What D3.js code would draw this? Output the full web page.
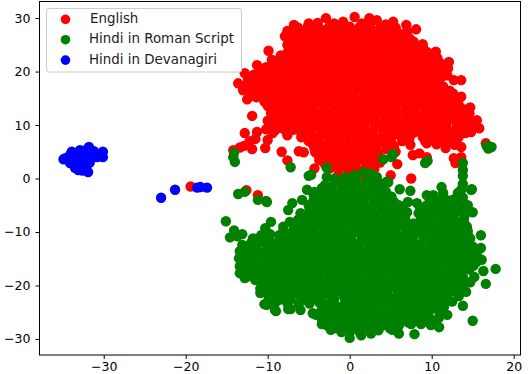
<!DOCTYPE html>
<html>
<head>
<meta charset="utf-8" />
<title>t-SNE scatter</title>
<script src="https://d3js.org/d3.v7.min.js"></script>
<style>
body { margin: 0; background: #fff; }
text { font-family: "DejaVu Sans", sans-serif; }
</style>
</head>
<body>
<div id="chart"></div>
<script>
const labels = ["English", "Hindi in Roman Script", "Hindi in Devanagiri"];
const colors = ["#ff0000", "#008000", "#0000ff"];
const xTicks = [-30, -20, -10, 0, 10, 20];
const yTicks = [-30, -20, -10, 0, 10, 20, 30];

// points, one line per rough row
const english = [
[-6.8,28.7],[-5,29],[-3.9,29.1],[-2.9,30],[-1.9,29],[-0.8,29.3],[0.6,30.2],[1.5,29],[2.4,30],[3.3,29.6],[4.4,28.8],[5.3,29.3],
[-7.6,27.6],[-6.4,27.9],[-5.3,27.6],[-4.2,27.9],[-3.1,27.7],[-2,27.8],[-0.9,27.6],[0.2,27.9],[1.3,27.6],[2.4,27.9],[3.5,27.7],[4.6,27.8],[5.7,27.6],[6.9,28.7],[8.1,27.9],[7,27.4],
[-7.9,26.6],[-7,26.3],[-5.9,26.5],[-4.8,26.3],[-3.7,26.5],[-2.6,26.3],[-1.5,26.5],[-0.4,26.3],[0.7,26.5],[1.8,26.3],[2.9,26.5],[4,26.3],[5.1,26.5],[6.2,26.3],[7.3,26.2],
[-7.6,25],[-6.4,25.1],[-5.3,24.9],[-4.2,25.1],[-3.1,24.9],[-2,25.1],[-0.9,24.9],[0.2,25.1],[1.3,24.9],[2.4,25.1],[3.5,24.9],[4.6,25.1],[5.7,24.9],[6.8,25.1],[7.9,24.9],[8.9,25.1],
[-9.9,23.9],[-7.5,23.8],[-6.9,23.5],[-5.8,23.7],[-4.7,23.5],[-3.6,23.7],[-2.5,23.5],[-1.4,23.7],[-0.3,23.5],[0.8,23.7],[1.9,23.5],[3,23.7],[4.1,23.5],[5.2,23.7],[6.3,23.5],[7.4,23.7],[8.5,23.5],[9.5,23.6],[10.5,23.7],
[-9.5,22.2],[-8.5,22.3],[-7.4,22.1],[-6.3,22.3],[-5.2,22.1],[-4.1,22.3],[-3,22.1],[-1.9,22.3],[-0.8,22.1],[0.3,22.3],[1.4,22.1],[2.5,22.3],[3.6,22.1],[4.7,22.3],[5.8,22.1],[6.9,22.3],[8,22.1],[9.1,22.3],[10.2,22.1],[10.7,22.5],[12.1,21.8],
[-11.3,21.2],[-10.2,20.8],[-9,20.9],[-7.9,20.7],[-6.8,20.9],[-5.7,20.7],[-4.6,20.9],[-3.5,20.7],[-2.4,20.9],[-1.3,20.7],[-0.2,20.9],[0.9,20.7],[2,20.9],[3.1,20.7],[4.2,20.9],[5.3,20.7],[6.4,20.9],[7.5,20.7],[8.6,20.9],[9.7,20.7],[10.8,20.9],[12,20.6],
[-12.8,19.7],[-11.7,19.4],[-10.6,19.5],[-9.5,19.3],[-8.4,19.5],[-7.3,19.3],[-6.2,19.5],[-5.1,19.3],[-4,19.5],[-2.9,19.3],[-1.8,19.5],[-0.7,19.3],[0.4,19.5],[1.5,19.3],[2.6,19.5],[3.7,19.3],[4.8,19.5],[5.9,19.3],[7,19.5],[8.1,19.3],[9.2,19.5],[10.3,19.3],[11.4,19.2],[11.9,19.3],
[-13.6,17.8],[-12.4,18.1],[-11.3,17.9],[-10.2,18.1],[-9.1,17.9],[-8,18.1],[-6.9,17.9],[-5.8,18.1],[-4.7,17.9],[-3.6,18.1],[-2.5,17.9],[-1.4,18.1],[-0.3,17.9],[0.8,18.1],[1.9,17.9],[3,18.1],[4.1,17.9],[5.2,18.1],[6.3,17.9],[7.4,18.1],[8.5,17.9],[9.6,18],[10.7,17.9],[12.7,18.4],[13.6,18.4],
[-13,16.5],[-11.9,16.7],[-10.8,16.5],[-9.7,16.7],[-8.6,16.5],[-7.5,16.7],[-6.4,16.5],[-5.3,16.7],[-4.2,16.5],[-3.1,16.7],[-2,16.5],[-0.9,16.7],[0.2,16.5],[1.3,16.7],[2.4,16.5],[3.5,16.7],[4.6,16.5],[5.7,16.7],[6.8,16.5],[7.9,16.7],[9,16.5],[10.1,16.7],[11.2,16.5],[12.2,16.4],
[-12.5,14.8],[-11.4,15.2],[-10.3,15],[-9.2,15.2],[-8.1,15],[-7,15.2],[-5.9,15],[-4.8,15.2],[-3.7,15],[-2.6,15.2],[-1.5,15],[-0.4,15.2],[0.7,15],[1.8,15.2],[2.9,15],[4,15.2],[5.1,15],[6.2,15.2],[7.3,15],[8.4,15.2],[9.5,15],[10.6,15.2],[11.7,15],[12.8,15.1],[13.6,15.3],
[-10,13.6],[-8.7,13.8],[-7.6,13.6],[-6.5,13.8],[-5.4,13.6],[-4.3,13.8],[-3.2,13.6],[-2.1,13.8],[-1,13.6],[0.1,13.8],[1.2,13.6],[2.3,13.8],[3.4,13.6],[4.5,13.8],[5.6,13.6],[6.7,13.8],[7.8,13.6],[8.9,13.8],[10,13.6],[11.1,13.8],[12.2,13.6],[13.3,13.7],[14.7,13.3],
[-11.9,11.7],[-9.6,12.3],[-8.5,12.1],[-7.4,12.3],[-6.3,12.1],[-5.2,12.3],[-4.1,12.1],[-3,12.3],[-1.9,12.1],[-0.8,12.3],[0.3,12.1],[1.4,12.3],[2.5,12.1],[3.6,12.3],[4.7,12.1],[5.8,12.3],[6.9,12.1],[8,12.3],[9.1,12.1],[10.2,12.3],[11.3,12.1],[12.4,12.3],[13.5,12.1],[14.6,12.2],
[-10,10.8],[-9,10.6],[-7.9,10.8],[-6.8,10.6],[-5.7,10.8],[-4.6,10.6],[-3.5,10.8],[-2.4,10.6],[-1.3,10.8],[-0.2,10.6],[0.9,10.8],[2,10.6],[3.1,10.8],[4.2,10.6],[5.3,10.8],[6.4,10.6],[7.5,10.8],[8.6,10.6],[9.7,10.8],[10.8,10.6],[11.9,10.8],[13,10.6],[14.1,10.8],[15.5,10.9],
[-11.3,8.7],[-10.2,9.2],[-9.1,9],[-8,9.2],[-6.9,9.1],[-5.8,9.3],[-4.7,9.1],[-3.6,9.3],[-2.5,9.1],[-1.4,9.3],[-0.3,9.1],[0.8,9.3],[1.9,9.1],[3,9.3],[4.1,9.1],[5.2,9.3],[6.3,9.1],[7.4,9.3],[8.5,9.1],[9.6,9.3],[10.7,9.1],[11.8,9.3],[12.9,9.1],[14,9.3],[14.8,8.7],[15.8,9.4],
[-12.8,8.5],[-12.2,7],[-10,7.2],[-7.6,8.1],[-5.9,7.7],[-4.8,7.9],[-3.7,7.7],[-2.6,7.9],[-1.5,7.7],[-0.4,7.9],[0.7,7.7],[1.8,7.9],[2.9,7.7],[4,7.9],[5.1,7.7],[6.2,7.9],[7.3,7.6],[8.9,7.8],[10,7.6],[11.1,7.8],[12.2,7.6],[13.3,7.8],
[-14.2,5.3],[-13.4,5.8],[-12.9,6.1],[-11.9,5.5],[-10.3,5.7],[-8.3,5],[-6.2,5.1],[-5.6,4.9],[-4.5,6.4],[-3.4,6.2],[-2.3,6.4],[-1.2,6.2],[-0.1,6.4],[1,6.2],[2.1,6.4],[3.2,6.2],[4.3,6.4],[5.4,6.1],[7.4,6.3],[9.4,6.6],[10.6,6.4],[11.7,5.7],[12.8,6.3],[13.6,5.9],[16.6,6.6],
[-4.2,4.9],[-3.1,4.7],[-2,4.9],[-0.9,4.7],[0.2,4.9],[1.3,4.7],[2.4,4.9],[3.5,4.7],[5.6,5],[7.7,4.4],[8.5,4.7],[9.4,4],[12.7,3.8],[13.6,4],[12.9,2.9],
[-7.6,3.4],[-3.7,3.4],[-2.6,3.2],[-1.5,3.4],[-0.4,3.2],[0.7,3.4],[1.8,3.2],[2.9,3.4],[3.7,3],[5.8,2.7],
[-4.3,1.9],[-2.4,1.9],[-1.3,1.7],[-0.2,1.9],[0.9,1.7],[2,1.9],[3,1.8],
[-1.4,0.6],[-0.3,0.5],[0.8,0.6],[2,0.5],[5,0.6],[7.5,0],
[-19.4,-1.5],[-12.6,-2.2],[-11.2,-3.1]
];

// inside of the red blob, between the rows above
const englishInner = [
[-6.3,28.2],[-5.1,28.4],[-3.8,28.3],[-2.5,28.4],[-1.3,28.2],[0,28.4],[1.2,28.3],[2.5,28.4],[3.8,28.2],[5,28.4],[5.6,28.2],
[-7.4,27],[-6.1,27.1],[-4.9,26.9],[-3.6,27.1],[-2.4,26.9],[-1.1,27.1],[0.1,26.9],[1.4,27.1],[2.6,26.9],[3.9,27.1],[5.1,26.9],[6.3,27],
[-7.3,25.7],[-6,25.8],[-4.8,25.6],[-3.5,25.8],[-2.3,25.6],[-1,25.8],[0.2,25.6],[1.5,25.8],[2.7,25.6],[4,25.8],[5.2,25.6],[6.5,25.8],[7.8,25.6],
[-7.2,24.3],[-6,24.4],[-4.7,24.2],[-3.5,24.4],[-2.2,24.2],[-1,24.4],[0.3,24.2],[1.5,24.4],[2.8,24.2],[4,24.4],[5.3,24.2],[6.5,24.4],[7.8,24.2],[9,24.3],
[-8.4,23],[-7.1,22.9],[-5.9,23.1],[-4.6,22.9],[-3.4,23.1],[-2.1,22.9],[-0.9,23.1],[0.4,22.9],[1.6,23.1],[2.9,22.9],[4.1,23.1],[5.4,22.9],[6.6,23.1],[7.9,22.9],[9.1,23.1],[9.8,22.9],
[-9,21.6],[-7.7,21.5],[-6.5,21.7],[-5.2,21.5],[-4,21.7],[-2.7,21.5],[-1.5,21.7],[-0.2,21.5],[1,21.7],[2.3,21.5],[3.5,21.7],[4.8,21.5],[6,21.7],[7.3,21.5],[8.5,21.7],[9.8,21.5],[11,21.6],
[-11,20.1],[-9.8,20.2],[-8.5,20],[-7.3,20.2],[-6,20],[-4.8,20.2],[-3.5,20],[-2.3,20.2],[-1,20],[0.2,20.2],[1.5,20],[2.7,20.2],[4,20],[5.2,20.2],[6.5,20],[7.7,20.2],[9,20],[10.2,20.2],[11.1,20],
[-12.4,18.7],[-11.2,18.8],[-9.9,18.6],[-8.7,18.8],[-7.4,18.6],[-6.2,18.8],[-4.9,18.6],[-3.7,18.8],[-2.4,18.6],[-1.2,18.8],[0.1,18.6],[1.3,18.8],[2.6,18.6],[3.8,18.8],[5.1,18.6],[6.3,18.8],[7.6,18.6],[8.8,18.8],[10.1,18.6],[11,18.7],
[-12.7,17.2],[-11.5,17.3],[-10.2,17.1],[-9,17.3],[-7.7,17.1],[-6.5,17.3],[-5.2,17.1],[-4,17.3],[-2.7,17.1],[-1.5,17.3],[-0.2,17.1],[1,17.3],[2.3,17.1],[3.5,17.3],[4.8,17.1],[6,17.3],[7.3,17.1],[8.5,17.3],[9.8,17.1],[11.4,17.2],
[-12,15.9],[-10.7,15.8],[-9.5,16],[-8.2,15.8],[-7,16],[-5.7,15.8],[-4.5,16],[-3.2,15.8],[-2,16],[-0.7,15.8],[0.5,16],[1.8,15.8],[3,16],[4.3,15.8],[5.5,16],[6.8,15.8],[8,16],[9.3,15.8],[10.5,16],[11.8,15.8],[12.6,15.9],
[-10.4,14.4],[-9.2,14.5],[-7.9,14.3],[-6.7,14.5],[-5.4,14.3],[-4.2,14.5],[-2.9,14.3],[-1.7,14.5],[-0.4,14.3],[0.8,14.5],[2.1,14.3],[3.3,14.5],[4.6,14.3],[5.8,14.5],[7.1,14.3],[8.3,14.5],[9.6,14.3],[10.8,14.5],[12.1,14.3],[13.2,14.4],
[-9.5,12.9],[-8.2,13],[-7,12.8],[-5.7,13],[-4.5,12.8],[-3.2,13],[-2,12.8],[-0.7,13],[0.5,12.8],[1.8,13],[3,12.8],[4.3,13],[5.5,12.8],[6.8,13],[8,12.8],[9.3,13],[10.5,12.8],[11.8,13],[13,12.8],[14,12.9],
[-9.4,11.4],[-8.1,11.5],[-6.9,11.3],[-5.6,11.5],[-4.4,11.3],[-3.1,11.5],[-1.9,11.3],[-0.6,11.5],[0.6,11.3],[1.9,11.5],[3.1,11.3],[4.4,11.5],[5.6,11.3],[6.9,11.5],[8.1,11.3],[9.4,11.5],[10.6,11.3],[11.9,11.5],[13.1,11.3],[14.4,11.4],
[-9.4,9.9],[-8.2,10],[-6.9,9.8],[-5.7,10],[-4.4,9.8],[-3.2,10],[-1.9,9.8],[-0.7,10],[0.6,9.8],[1.8,10],[3.1,9.8],[4.3,10],[5.6,9.8],[6.8,10],[8.1,9.8],[9.3,10],[10.6,9.8],[11.8,10],[13.1,9.8],[14.9,9.9],
[-9.4,8.5],[-5.9,8.4],[-4.7,8.6],[-3.4,8.4],[-2.2,8.6],[-0.9,8.4],[0.3,8.6],[1.6,8.4],[2.8,8.6],[4.1,8.4],[5.3,8.6],[6.6,8.4],[7.8,8.6],[9.1,8.4],[10.3,8.6],[11.6,8.4],[12.8,8.6],[14.1,8.5],
[-11.5,7.4],[-5,7],[-3.8,7.1],[-2.5,6.9],[-1.3,7.1],[0,6.9],[1.2,7.1],[2.5,6.9],[3.7,7.1],[5,6.9],[6.4,7],[9.2,7],[10.4,7.1],[11.7,6.9],[13,7],
[-4.3,5.6],[-3,5.5],[-1.8,5.7],[-0.5,5.5],[0.7,5.7],[2,5.5],[3.2,5.7],[4.5,5.5],
[-3.7,4],[-2.5,4.1],[-1.2,3.9],[0,4.1],[1.3,3.9],[2.5,4.1],[3.4,4],
[-3,2.6],[-1.8,2.5],[-0.5,2.7],[0.7,2.5],[2,2.7],[3.1,2.6]
];

const hindiRoman = [
[-14.1,4.8],[-14.2,4],[-14,3.1],[-7.2,2.1],[-4.7,0.7],[-5,0.5],[4.1,3.6],[5.3,4.6],[5.1,4],[9.2,2.9],[9.5,3.3],[16.7,6.1],[17.3,5.9],[16.9,5.6],
[-2.8,2],[-2.8,0.3],[1.7,1.2],[0.6,0.6],[2.6,0.9],[-1.8,0],[-0.5,0.3],[3.3,0.3],[13.8,2.9],[13.8,1.6],[13.8,0.5],[13.8,-1],
[-3,-1.2],[-1.9,-1],[-0.8,-1.3],[0.3,-1],[1.4,-1.3],[2.5,-1],[3.6,-1.2],[4.5,-0.6],[4.7,-0.7],
[-4.3,-2.5],[-3.2,-2.4],[-2.1,-2.6],[-1,-2.4],[0.1,-2.6],[1.2,-2.4],[2.3,-2.6],[3.5,-2.1],[4.4,-2.4],[6.1,-2],[7.4,-2.3],[11.2,-1.6],[11.4,-2.7],[13.6,-2.1],[14.8,-2.1],[14.9,-2],[13.2,-2.7],
[-13.6,-2.9],[-12.8,-2.5],[-11.2,-4],[-10.2,-4.2],[-10.1,-4.4],[-5.8,-4.0],[-5.2,-2.1],[-4.4,-3.1],[-3.7,-3.9],[-2.6,-3.7],[-1.5,-3.9],[-0.4,-3.7],[0.7,-3.9],[1.8,-3.7],[2.9,-3.9],[4,-3.7],[5,-3.4],[5.1,-3.4],[9.4,-3.1],[10.2,-3.1],[11.4,-3.5],[12.8,-3.8],[13.8,-3.6],
[-7,-4.6],[-7.5,-5.9],[-5,-5],[-3.9,-5.2],[-2.8,-5],[-1.7,-5.2],[-0.6,-5],[0.5,-5.2],[1.6,-5],[2.7,-5.2],[3.8,-5],[4.9,-5.2],[6,-5],[7.1,-4.4],[8.2,-4.6],[9.4,-5],[10.5,-4.8],[11.6,-5],[12.5,-4.8],[13.6,-5],[14.4,-5],
[-6,-6.5],[-4.9,-6.5],[-3.8,-6.3],[-2.7,-6.5],[-1.6,-6.3],[-0.5,-6.5],[0.6,-6.3],[1.7,-6.5],[2.8,-6.3],[3.9,-6.5],[5,-6.3],[6.1,-6.5],[7,-6.3],[8.4,-6.5],[9.5,-6.3],[10.6,-6.5],[11.7,-6.3],[12.8,-6.5],[13.9,-6.3],[15,-6.3],
[-6.3,-7.7],[-5.3,-7.9],[-4.2,-7.7],[-3.1,-7.9],[-2,-7.7],[-0.9,-7.9],[0.2,-7.7],[1.3,-7.9],[2.4,-7.7],[3.5,-7.9],[4.6,-7.7],[5.7,-7.9],[6.8,-7.7],[8.6,-8],[9.8,-7.8],[10.9,-8],[12.8,-7.8],[13.9,-7.6],
[-9.6,-8.1],[-7.3,-8.1],[-6.4,-9.2],[-5.3,-9],[-4.2,-9.2],[-3.1,-9],[-2,-9.2],[-0.9,-9],[0.2,-9.2],[1.3,-9],[2.4,-9.2],[3.5,-9],[4.6,-9.2],[5.7,-9],[6.8,-9.2],[7.9,-9],[9,-9.2],[10.1,-9],[11.2,-9.2],[12.3,-9],[13.4,-9.2],[14.3,-9],
[-15.1,-8],[-14.6,-11],[-14.1,-9.7],[-13.1,-10.4],[-13.7,-10.8],[-10.3,-9.3],[-8.1,-9],[-11.8,-11.2],[-10.8,-10.6],[-9.7,-10.4],[-8.6,-10.6],[-7.5,-10.4],[-6.4,-10.6],[-5.3,-10.4],[-4.2,-10.6],[-3.1,-10.4],[-2,-10.6],[-0.9,-10.4],[0.2,-10.6],[1.3,-10.4],[2.4,-10.6],[3.5,-10.4],[4.6,-10.6],[5.7,-10.4],[6.8,-10.6],[7.9,-10.4],[9,-10.6],[10.1,-10.4],[11.2,-10.6],[12.3,-10.4],[13.4,-10.6],[14.4,-10.5],[16,-10.6],
[-13.1,-12.4],[-12,-12],[-10.9,-11.9],[-9.8,-12.1],[-8.7,-11.9],[-7.6,-12.1],[-6.5,-11.9],[-5.4,-12.1],[-4.3,-11.9],[-3.2,-12.1],[-2.1,-11.9],[-1,-12.1],[0.1,-11.9],[1.2,-12.1],[2.3,-11.9],[3.4,-12.1],[4.5,-11.9],[5.6,-12.1],[6.7,-11.9],[7.8,-12.1],[8.9,-11.9],[10,-12.1],[11.1,-11.9],[12.2,-12.1],[13.3,-11.9],[14.4,-12.1],
[-13.4,-13.6],[-12.3,-13.4],[-11.2,-13.6],[-10.1,-13.4],[-9,-13.6],[-7.9,-13.4],[-6.8,-13.6],[-5.7,-13.4],[-4.6,-13.6],[-3.5,-13.4],[-2.4,-13.6],[-1.3,-13.4],[-0.2,-13.6],[0.9,-13.4],[2,-13.6],[3.1,-13.4],[4.2,-13.6],[5.3,-13.4],[6.4,-13.6],[7.5,-13.4],[8.6,-13.6],[9.7,-13.4],[10.8,-13.6],[11.9,-13.4],[13,-13.6],[14.1,-13.4],[15.2,-13.5],[16,-13],
[-13.5,-14.9],[-12.8,-14.9],[-11.7,-15],[-10.6,-14.8],[-9.5,-15],[-8.4,-14.8],[-7.3,-15],[-6.2,-14.8],[-5.1,-15],[-4,-14.8],[-2.9,-15],[-1.8,-14.8],[-0.7,-15],[0.4,-14.8],[1.5,-15],[2.6,-14.8],[3.7,-15],[4.8,-14.8],[5.9,-15],[7,-14.8],[8.1,-15],[9.2,-14.8],[10.3,-15],[11.4,-14.8],[12.5,-15],[13.6,-14.8],[14.7,-15],[16.1,-15.2],
[-13.4,-16.4],[-12.3,-16.2],[-11.2,-16.4],[-10.1,-16.2],[-9,-16.4],[-7.9,-16.2],[-6.8,-16.4],[-5.7,-16.2],[-4.6,-16.4],[-3.5,-16.2],[-2.4,-16.4],[-1.3,-16.2],[-0.2,-16.4],[0.9,-16.2],[2,-16.4],[3.1,-16.2],[4.2,-16.4],[5.3,-16.2],[6.4,-16.4],[7.5,-16.2],[8.6,-16.4],[9.7,-16.2],[10.8,-16.4],[11.9,-16.2],[13,-16.4],[14.1,-16.2],[15.1,-16.3],[17.8,-16.9],
[-13.4,-17.7],[-12.8,-17.8],[-11.7,-17.6],[-10.6,-17.8],[-9.5,-17.6],[-8.4,-17.8],[-7.3,-17.6],[-6.2,-17.8],[-5.1,-17.6],[-4,-17.8],[-2.9,-17.6],[-1.8,-17.8],[-0.7,-17.6],[0.4,-17.8],[1.5,-17.6],[2.6,-17.8],[3.7,-17.6],[4.8,-17.8],[5.9,-17.6],[7,-17.8],[8.1,-17.6],[9.2,-17.8],[10.3,-17.6],[11.4,-17.8],[12.5,-17.6],[13.6,-17.8],[15.2,-18.4],[16.3,-17.3],
[-12.8,-18.6],[-11.5,-19],[-10.3,-19],[-9.2,-19.2],[-8.1,-19],[-7,-19.2],[-5.9,-19],[-4.8,-19.2],[-3.7,-19],[-2.6,-19.2],[-1.5,-19],[-0.4,-19.2],[0.7,-19],[1.8,-19.2],[2.9,-19],[4,-19.2],[5.1,-19],[6.2,-19.2],[7.3,-19],[8.4,-19.2],[9.5,-19],[10.6,-19.2],[11.7,-19],[12.8,-19.2],[13.9,-19],[14.7,-19.4],[16.6,-19.7],
[-10.9,-20.6],[-9.8,-20.4],[-8.7,-20.6],[-7.6,-20.4],[-6.5,-20.6],[-5.4,-20.4],[-4.3,-20.6],[-3.2,-20.4],[-2.1,-20.6],[-1,-20.4],[0.1,-20.6],[1.2,-20.4],[2.3,-20.6],[3.4,-20.4],[4.5,-20.6],[5.6,-20.4],[6.7,-20.6],[7.8,-20.4],[8.9,-20.6],[10,-20.4],[11.1,-20.6],[12.2,-20.4],[13.3,-20.6],[14.2,-21.2],
[-10.9,-21.4],[-9.4,-22],[-8.3,-21.8],[-7.2,-22],[-6.1,-21.8],[-4.4,-22],[-3.4,-21.9],[-2.3,-22],[-0.8,-21.8],[0.3,-22],[1.4,-21.8],[2.5,-22],[3.6,-21.8],[4.7,-22],[5.8,-21.8],[6.9,-22],[8,-21.8],[9.1,-22],[10.2,-21.8],[11.3,-22],[12.5,-23],[13.3,-22],
[-10.4,-23.5],[-10.1,-23.6],[-9.1,-23.3],[-7.6,-23.3],[-6.2,-23.4],[-4.9,-23.4],[-3.7,-23.2],[-2.9,-23.5],[-2,-23.3],[-0.5,-23.4],[0.6,-23.2],[1.7,-23.4],[2.8,-23.2],[3.9,-23.4],[5,-23.2],[6.1,-23.4],[7.2,-23.2],[8.3,-23.4],[9.4,-23.2],[10.5,-23.4],[11.6,-23.2],[13.8,-23.8],
[-9,-24.8],[-9.1,-24.6],[-7.5,-24.4],[-7.2,-24.4],[-6,-24.6],[-4.5,-25.2],[-3.5,-24.8],[-2.4,-24.6],[-1.3,-24.8],[-0.2,-24.6],[0.9,-24.8],[2,-24.6],[3.1,-24.8],[4.2,-24.6],[5.3,-24.8],[6.4,-24.6],[7.5,-24.8],[8.6,-24.6],[9.7,-24.8],[10.8,-24.6],[11.9,-25.5],
[-4.1,-25.5],[-3.4,-26.2],[-2.3,-26],[-1.2,-26.2],[-0.1,-26],[1,-26.2],[2.1,-26],[3.2,-26.2],[4.3,-26],[5.4,-26.2],[6.5,-26],[7.6,-26.2],[8.7,-26],[9.8,-26.2],[10.9,-26],[15,-26.6],
[-3.4,-27.2],[-2.7,-27.5],[-1.6,-27.3],[-0.5,-27.5],[0.6,-27.3],[1.7,-27.5],[2.8,-27.3],[3.9,-27.5],[5,-27.3],[6,-27.5],[7.5,-27.2],[8.7,-27.2],[9.9,-27.4],[10.9,-27.8],
[-2.3,-28.3],[-1,-28.7],[0.1,-28.5],[1.2,-28.7],[2.6,-29],[3.5,-28.4],[5.2,-28.3],[6,-29],[7.9,-29.1],
[0,-29.8],[1.4,-29.3]
];

// inside of the green blob, between the rows above
const hindiInner = [
[-1.5,-0.5],[-0.3,-0.4],[1,-0.6],[2.2,-0.4],[3.4,-0.5],
[-3.4,-1.8],[-2.2,-1.9],[-0.9,-1.7],[0.3,-1.9],[1.6,-1.7],[2.8,-1.9],[3.9,-1.8],
[-3.8,-3.1],[-2.5,-3.2],[-1.3,-3],[0,-3.2],[1.2,-3],[2.5,-3.2],[3.7,-3],[4.4,-3.1],
[-4.5,-4.4],[-3.3,-4.5],[-2,-4.3],[-0.8,-4.5],[0.5,-4.3],[1.7,-4.5],[3,-4.3],[4.2,-4.5],[5.4,-4.4],[9.8,-4.2],[11,-4.3],[12.2,-4.1],
[-4.9,-5.7],[-3.6,-5.8],[-2.4,-5.6],[-1.1,-5.8],[0.1,-5.6],[1.4,-5.8],[2.6,-5.6],[3.9,-5.8],[5.1,-5.6],[6.4,-5.7],[8.6,-5.6],[9.9,-5.8],[11.1,-5.6],[12.4,-5.8],[13.6,-5.7],
[-5.5,-7.1],[-4.2,-7],[-3,-7.2],[-1.7,-7],[-0.5,-7.2],[0.8,-7],[2,-7.2],[3.3,-7],[4.5,-7.2],[5.8,-7],[6.7,-7.1],[9,-7.2],[11.4,-7],[12.4,-7.2],[14,-7],
[-6,-8.4],[-4.7,-8.5],[-3.5,-8.3],[-2.2,-8.5],[-1,-8.3],[0.3,-8.5],[1.5,-8.3],[2.8,-8.5],[4,-8.3],[5.3,-8.5],[6.5,-8.3],[7.8,-8.4],[9.1,-8.5],[11.7,-8.4],[12.9,-8.3],[14,-8.4],
[-8.1,-9.8],[-6.9,-9.7],[-5.6,-9.9],[-4.4,-9.7],[-3.1,-9.9],[-1.9,-9.7],[-0.6,-9.9],[0.6,-9.7],[1.9,-9.9],[3.1,-9.7],[4.4,-9.9],[5.6,-9.7],[6.9,-9.9],[8.1,-9.7],[9.4,-9.9],[10.6,-9.7],[11.9,-9.9],[13.1,-9.7],[14.4,-9.8],
[-11,-11.2],[-9.8,-11.3],[-8.5,-11.1],[-7.3,-11.3],[-6,-11.1],[-4.8,-11.3],[-3.5,-11.1],[-2.3,-11.3],[-1,-11.1],[0.2,-11.3],[1.5,-11.1],[2.7,-11.3],[4,-11.1],[5.2,-11.3],[6.5,-11.1],[7.7,-11.3],[9,-11.1],[10.2,-11.3],[11.5,-11.1],[12.7,-11.3],[14,-11.1],[14.7,-11.2],
[-12.6,-12.7],[-11.4,-12.8],[-10.1,-12.6],[-8.9,-12.8],[-7.6,-12.6],[-6.4,-12.8],[-5.1,-12.6],[-3.9,-12.8],[-2.6,-12.6],[-1.4,-12.8],[-0.1,-12.6],[1.1,-12.8],[2.4,-12.6],[3.6,-12.8],[4.9,-12.6],[6.1,-12.8],[7.4,-12.6],[8.6,-12.8],[9.9,-12.6],[11.1,-12.8],[12.4,-12.6],[13.6,-12.8],[15,-12.7],
[-13,-14.2],[-11.8,-14.1],[-10.5,-14.3],[-9.3,-14.1],[-8,-14.3],[-6.8,-14.1],[-5.5,-14.3],[-4.3,-14.1],[-3,-14.3],[-1.8,-14.1],[-0.5,-14.3],[0.7,-14.1],[2,-14.3],[3.2,-14.1],[4.5,-14.3],[5.7,-14.1],[7,-14.3],[8.2,-14.1],[9.5,-14.3],[10.7,-14.1],[12,-14.3],[13.2,-14.1],[14.5,-14.3],[15.5,-14.2],
[-13,-15.6],[-11.7,-15.7],[-10.5,-15.5],[-9.2,-15.7],[-8,-15.5],[-6.7,-15.7],[-5.5,-15.5],[-4.2,-15.7],[-3,-15.5],[-1.7,-15.7],[-0.5,-15.5],[0.8,-15.7],[2,-15.5],[3.3,-15.7],[4.5,-15.5],[5.8,-15.7],[7,-15.5],[8.3,-15.7],[9.5,-15.5],[10.8,-15.7],[12,-15.5],[13.3,-15.7],[14.5,-15.5],[15.5,-15.6],
[-13,-17],[-11.8,-17.1],[-10.5,-16.9],[-9.3,-17.1],[-8,-16.9],[-6.8,-17.1],[-5.5,-16.9],[-4.3,-17.1],[-3,-16.9],[-1.8,-17.1],[-0.5,-16.9],[0.7,-17.1],[2,-16.9],[3.2,-17.1],[4.5,-16.9],[5.7,-17.1],[7,-16.9],[8.2,-17.1],[9.5,-16.9],[10.7,-17.1],[12,-16.9],[13.2,-17.1],[14.6,-17],
[-12.4,-18.3],[-11.2,-18.4],[-9.9,-18.2],[-8.7,-18.4],[-7.4,-18.2],[-6.2,-18.4],[-4.9,-18.2],[-3.7,-18.4],[-2.4,-18.2],[-1.2,-18.4],[0.1,-18.2],[1.3,-18.4],[2.6,-18.2],[3.8,-18.4],[5.1,-18.2],[6.3,-18.4],[7.6,-18.2],[8.8,-18.4],[10.1,-18.2],[11.3,-18.4],[12.6,-18.2],[13.8,-18.4],
[-10.5,-19.8],[-9.2,-19.9],[-8,-19.7],[-6.7,-19.9],[-5.5,-19.7],[-4.2,-19.9],[-3,-19.7],[-1.7,-19.9],[-0.5,-19.7],[0.8,-19.9],[2,-19.7],[3.3,-19.9],[4.5,-19.7],[5.8,-19.9],[7,-19.7],[8.3,-19.9],[9.5,-19.7],[10.8,-19.9],[12,-19.7],[13.2,-19.9],[14,-19.8],
[-10.4,-21.2],[-9.1,-21.1],[-7.9,-21.3],[-6.6,-21.1],[-5.4,-21.3],[-4.1,-21.1],[-2.9,-21.3],[-1.6,-21.1],[-0.4,-21.3],[0.9,-21.1],[2.1,-21.3],[3.4,-21.1],[4.6,-21.3],[5.9,-21.1],[7.1,-21.3],[8.4,-21.1],[9.6,-21.3],[10.9,-21.1],[12.1,-21.3],[13,-21.2],
[-9.9,-22.6],[-8.6,-22.7],[-7.2,-22.6],[-5.5,-22.7],[-4,-22.6],[-1.9,-22.7],[-0.6,-22.5],[0.6,-22.7],[1.9,-22.5],[3.1,-22.7],[4.4,-22.5],[5.6,-22.7],[6.9,-22.5],[8.1,-22.7],[9.4,-22.5],[10.6,-22.7],[11.9,-22.6],
[-1.1,-24],[0.2,-24.1],[1.4,-23.9],[2.7,-24.1],[3.9,-23.9],[5.2,-24.1],[6.4,-23.9],[7.7,-24.1],[8.9,-23.9],[10.2,-24.1],[11.5,-24],
[-3,-25.4],[-1.8,-25.3],[-0.5,-25.5],[0.7,-25.3],[2,-25.5],[3.2,-25.3],[4.5,-25.5],[5.7,-25.3],[7,-25.5],[8.2,-25.3],[9.5,-25.5],[11,-25.4],
[-2.9,-26.8],[-1.6,-26.7],[-0.4,-26.9],[0.9,-26.7],[2.1,-26.9],[3.4,-26.7],[4.6,-26.9],[5.9,-26.7],[7.1,-26.9],[8.4,-26.7],[9.6,-26.9],[10.5,-26.8],
[-1.5,-28],[-0.3,-27.9],[1,-28.1],[2.2,-27.9],[3.5,-28.1],[4.9,-28]
];

const devanagari = [
[-34.7,3.8],[-34.9,3.6],[-33.9,5],[-32.9,5.3],[-31.8,5.9],[-32.4,5.2],[-31.2,5.1],[-30.1,5],[-30.1,4],[-30.8,4],
[-34.1,4.4],[-33.4,4.2],[-32.6,4.4],[-31.9,4.2],[-31.3,4.1],[-34.1,2.9],[-33.3,3.2],[-32.5,3.1],[-31.7,3],[-33.5,2],[-32.8,2.1],[-32,2.6],[-31.9,1.2],[-32.6,1.5],[-33.1,1.6],
[-23,-3.6],[-21.3,-2.1],[-18.6,-1.7],[-18.2,-1.6],[-17.4,-1.7]
];

const width = 528, height = 374;
const margin = {left: 39.5, right: 520.5, top: 1.5, bottom: 355};

const svg = d3.select("#chart").append("svg")
    .attr("width", width)
    .attr("height", height)
    .style("display", "block");

const x = d3.scaleLinear().domain([-37.83, 20.83]).range([margin.left, margin.right]);
const y = d3.scaleLinear().domain([-33, 33.1]).range([margin.bottom, margin.top]);

[english.concat(englishInner), hindiRoman.concat(hindiInner), devanagari].forEach(function(pts, i) {
    svg.append("g").selectAll("circle")
        .data(pts)
        .join("circle")
            .attr("cx", d => x(d[0]))
            .attr("cy", d => y(d[1]))
            .attr("r", 5.2)
            .style("fill", colors[i]);
});

const xAxis = svg.append("g")
    .attr("transform", `translate(0,${margin.bottom})`)
    .call(d3.axisBottom(x).tickValues(xTicks).tickFormat(d3.format("d")).tickSize(4).tickPadding(3).tickSizeOuter(0));
const yAxis = svg.append("g")
    .attr("transform", `translate(${margin.left},0)`)
    .call(d3.axisLeft(y).tickValues(yTicks).tickFormat(d3.format("d")).tickSize(4).tickPadding(5).tickSizeOuter(0));
[xAxis, yAxis].forEach(a => {
    a.selectAll("text").style("font-size", "12.5px").style("font-family", "DejaVu Sans").style("fill", "#000");
    a.selectAll("line").style("stroke", "#000");
    a.select(".domain").remove();
});

// frame
svg.append("rect")
    .attr("x", margin.left).attr("y", margin.top)
    .attr("width", margin.right - margin.left).attr("height", margin.bottom - margin.top)
    .style("fill", "none").style("stroke", "#000").style("stroke-width", 1);

// legend
const legend = svg.append("g");
legend.append("rect")
    .attr("x", 46.5).attr("y", 8.5)
    .attr("width", 195).attr("height", 63.5)
    .attr("rx", 2)
    .style("fill", "#fff").style("fill-opacity", 0.8)
    .style("stroke", "#ccc");
labels.forEach(function(name, i) {
    const ly = 19.3 + i * 20.4;
    legend.append("circle")
        .attr("cx", 65.5).attr("cy", ly).attr("r", 4.8)
        .style("fill", colors[i]);
    legend.append("text")
        .attr("x", i == 0 ? 90 : 89).attr("y", ly + 3.5)
        .style("font-size", "13.4px")
        .style("fill", "#222")
        .text(name);
});
</script>
</body>
</html>
